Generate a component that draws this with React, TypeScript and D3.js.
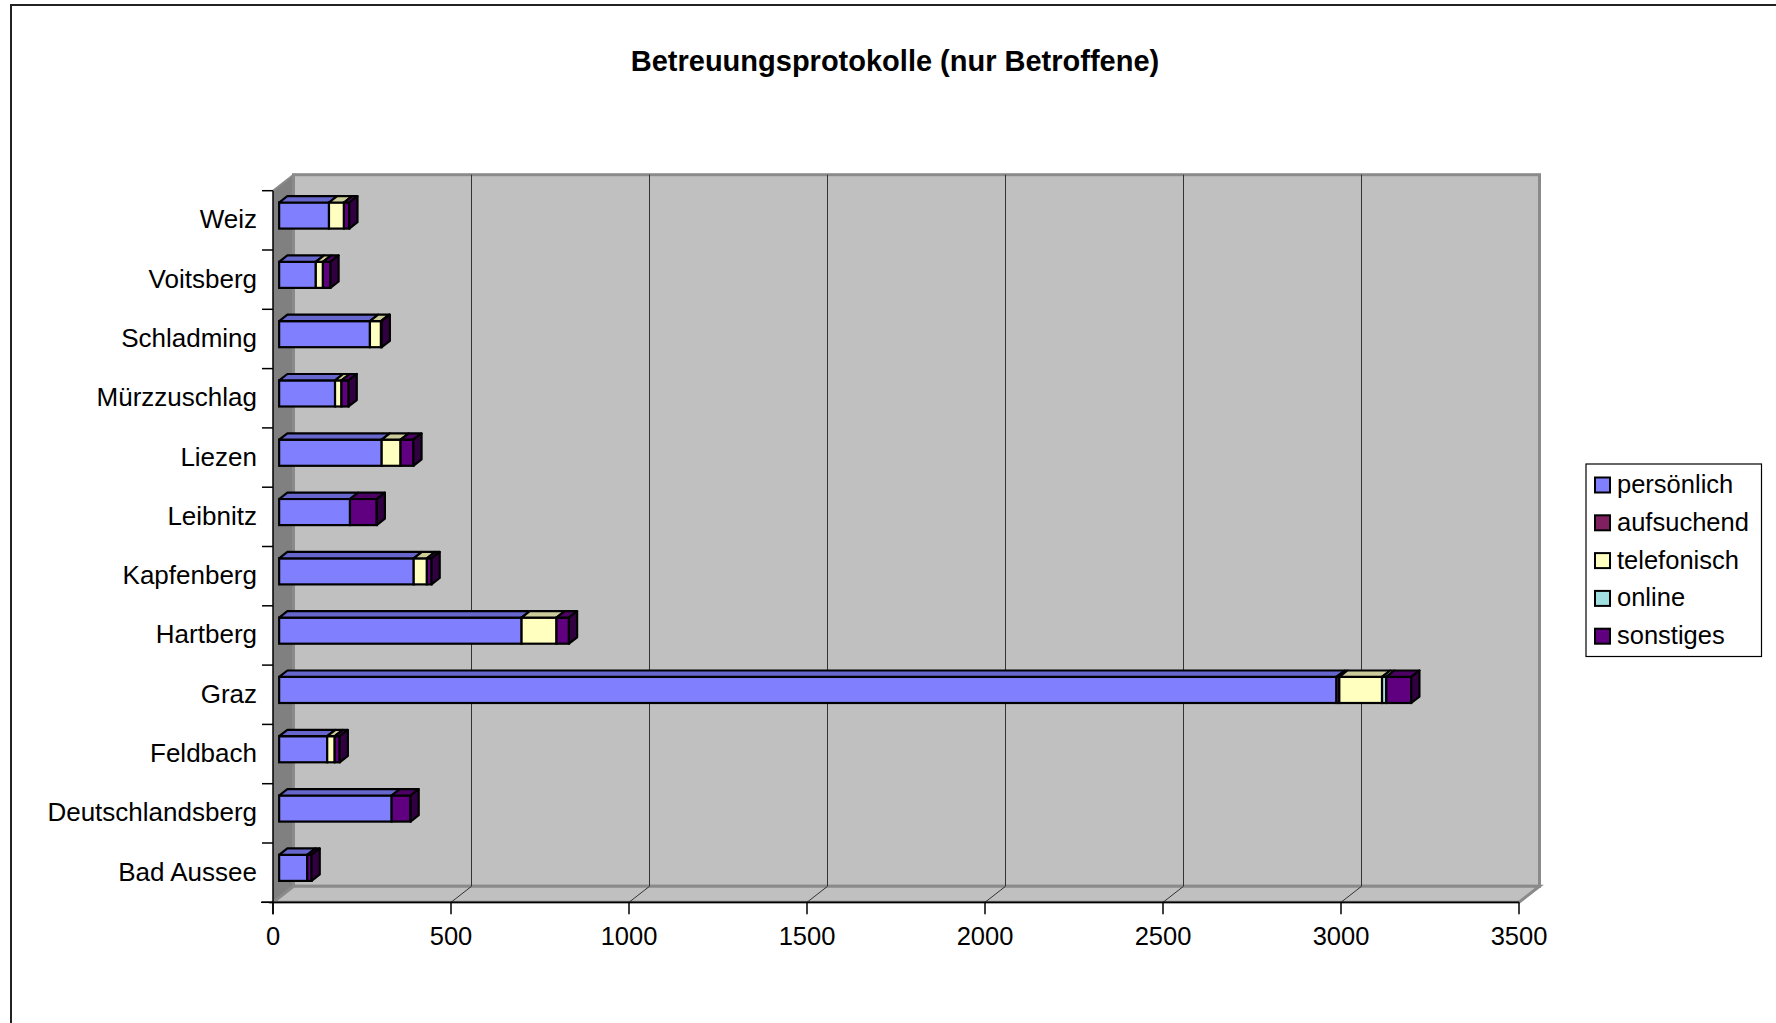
import React from "react";
import * as d3 from "d3";

// categories bottom-to-top as in the source sheet
const categories = [
  "Bad Aussee",
  "Deutschlandsberg",
  "Feldbach",
  "Graz",
  "Hartberg",
  "Kapfenberg",
  "Leibnitz",
  "Liezen",
  "Mürzzuschlag",
  "Schladming",
  "Voitsberg",
  "Weiz",
];

const persoenlich = [79, 316, 135, 2970, 681, 378, 199, 288, 157, 255, 103, 140];
const aufsuchend = [0, 0, 0, 8, 0, 0, 0, 0, 0, 0, 0, 0];
const telefonisch = [0, 0, 21, 120, 98, 37, 0, 53, 18, 31, 20, 42];
const online = [0, 0, 0, 12, 0, 0, 0, 0, 0, 0, 0, 0];
const sonstiges = [12, 53, 14, 70, 35, 13, 75, 36, 20, 2, 21, 15];

const seriesNames = ["persönlich", "aufsuchend", "telefonisch", "online", "sonstiges"];
const seriesColors = ["#8080FF", "#802060", "#FFFFC0", "#A0E0E0", "#600080"];
const xTicks = [0, 500, 1000, 1500, 2000, 2500, 3000, 3500];

const W = 1776;
const H = 1023;
// front plane of the 3d plot box
const X0 = 273;
const XW = 1246;
const YT = 190.7;
const YB = 902.3;
// depth vector
const DX = 20.5;
const DY = -16;
const FONT = "'Liberation Sans', Arial, sans-serif";

export default function App() {
  const x = d3.scaleLinear().domain([0, 3500]).range([X0, X0 + XW]);
  const top2bottom = categories.slice().reverse();
  const y = d3
    .scaleBand<string>()
    .domain(top2bottom)
    .range([YT, YB])
    .paddingInner(0.56)
    .paddingOuter(0.28);
  const step = y.step();

  const rows = categories.map((c, i) => ({
    cat: c,
    vals: [persoenlich[i], aufsuchend[i], telefonisch[i], online[i], sonstiges[i]],
  }));
  const stacked = d3
    .stack<{ cat: string; vals: number[] }, number>()
    .keys([0, 1, 2, 3, 4])
    .value((d, k) => d.vals[k])(rows);

  const t0 = 0.3;
  const t1 = 0.7;
  const px = (v: number, t: number) => x(v) + t * DX;
  const shade = (c: string, k: number) => {
    const col = d3.rgb(c);
    return d3.rgb(col.r * k, col.g * k, col.b * k).formatHex();
  };

  const bars: JSX.Element[] = [];
  categories.forEach((cat, ci) => {
    const yTop = (y(cat) as number) + t0 * DY;
    const bh = y.bandwidth();
    let lastSeries = -1;
    let lastEnd = 0;
    stacked.forEach((s, si) => {
      const [a, b] = s[ci];
      if (b - a <= 0) return;
      lastSeries = si;
      lastEnd = b;
      const color = seriesColors[si];
      const xa = px(a, t0);
      const xb = px(b, t0);
      const ddx = (t1 - t0) * DX;
      const ddy = (t1 - t0) * DY;
      bars.push(
        <g key={`${cat}-${si}`}>
          <rect x={xa} y={yTop} width={xb - xa} height={bh} fill={color} stroke="#000" strokeWidth={2.2} />
          <polygon
            points={`${xa},${yTop} ${xb},${yTop} ${xb + ddx},${yTop + ddy} ${xa + ddx},${yTop + ddy}`}
            fill={shade(color, 0.8)}
            stroke="#000"
            strokeWidth={2.2}
            strokeLinejoin="round"
          />
        </g>
      );
    });
    if (lastSeries >= 0) {
      const xe = px(lastEnd, t0);
      const ddx = (t1 - t0) * DX;
      const ddy = (t1 - t0) * DY;
      bars.push(
        <polygon
          key={`${cat}-side`}
          points={`${xe},${yTop} ${xe + ddx},${yTop + ddy} ${xe + ddx},${yTop + ddy + bh} ${xe},${yTop + bh}`}
          fill={shade(seriesColors[lastSeries], 0.5)}
          stroke="#000"
          strokeWidth={2.2}
          strokeLinejoin="round"
        />
      );
    }
  });

  return (
    <svg
      width={W}
      height={H}
      style={{ position: "absolute", left: 0, top: 0, background: "#fff" }}
      fontFamily={FONT}
    >
      <rect x={11} y={5} width={1800} height={1100} fill="#fff" stroke="#222" strokeWidth={2} />

      <text x={895} y={61} textAnchor="middle" dominantBaseline="central" fontSize={29} fontWeight="bold">
        Betreuungsprotokolle (nur Betroffene)
      </text>

      {/* walls */}
      <polygon
        points={`${X0},${YT} ${X0 + DX},${YT + DY} ${X0 + DX},${YB + DY} ${X0},${YB}`}
        fill="#808080"
      />
      <rect x={X0 + DX} y={YT + DY} width={XW} height={YB - YT} fill="#C0C0C0" stroke="#8a8a8a" strokeWidth={3} />
      <polygon
        points={`${X0},${YB} ${X0 + XW},${YB} ${X0 + XW + DX},${YB + DY} ${X0 + DX},${YB + DY}`}
        fill="#C0C0C0"
        stroke="#8a8a8a"
        strokeWidth={3}
      />
      <line x1={X0} y1={YT} x2={X0 + DX} y2={YT + DY} stroke="#8a8a8a" strokeWidth={2} />

      {/* gridlines */}
      {xTicks.slice(1, -1).map((v) => (
        <g key={`g${v}`}>
          <line x1={x(v) + DX} x2={x(v) + DX} y1={YT + DY} y2={YB + DY} stroke="#333" strokeWidth={1} />
          <line x1={x(v)} y1={YB} x2={x(v) + DX} y2={YB + DY} stroke="#333" strokeWidth={1} />
        </g>
      ))}

      {/* axes */}
      <line x1={X0 - 12} x2={X0 + XW} y1={YB} y2={YB} stroke="#000" strokeWidth={1.5} />
      <line x1={X0} x2={X0} y1={YT} y2={YB + 12} stroke="#000" strokeWidth={1.5} />
      {xTicks.map((v) => (
        <g key={`t${v}`}>
          <line x1={x(v)} x2={x(v)} y1={YB} y2={YB + 12} stroke="#000" strokeWidth={1.5} />
          <text x={x(v)} y={936} textAnchor="middle" dominantBaseline="central" fontSize={25.5}>
            {v}
          </text>
        </g>
      ))}
      {d3.range(top2bottom.length + 1).map((k) => (
        <line key={`ct${k}`} x1={X0 - 11} x2={X0} y1={YT + k * step} y2={YT + k * step} stroke="#000" strokeWidth={1.5} />
      ))}
      {top2bottom.map((c) => (
        <text
          key={`l${c}`}
          x={257}
          y={(y(c) as number) + y.bandwidth() / 2 - 1}
          textAnchor="end"
          dominantBaseline="central"
          fontSize={26}
        >
          {c}
        </text>
      ))}

      {bars}

      {/* legend */}
      <rect x={1586} y={464} width={175.5} height={192.5} fill="#fff" stroke="#000" strokeWidth={1.2} />
      {seriesNames.map((n, i) => (
        <g key={n}>
          <rect x={1595} y={477.5 + i * 37.8} width={15} height={15} fill={seriesColors[i]} stroke="#000" strokeWidth={2} />
          <text x={1617} y={484 + i * 37.8} dominantBaseline="central" fontSize={25.5}>
            {n}
          </text>
        </g>
      ))}
    </svg>
  );
}
